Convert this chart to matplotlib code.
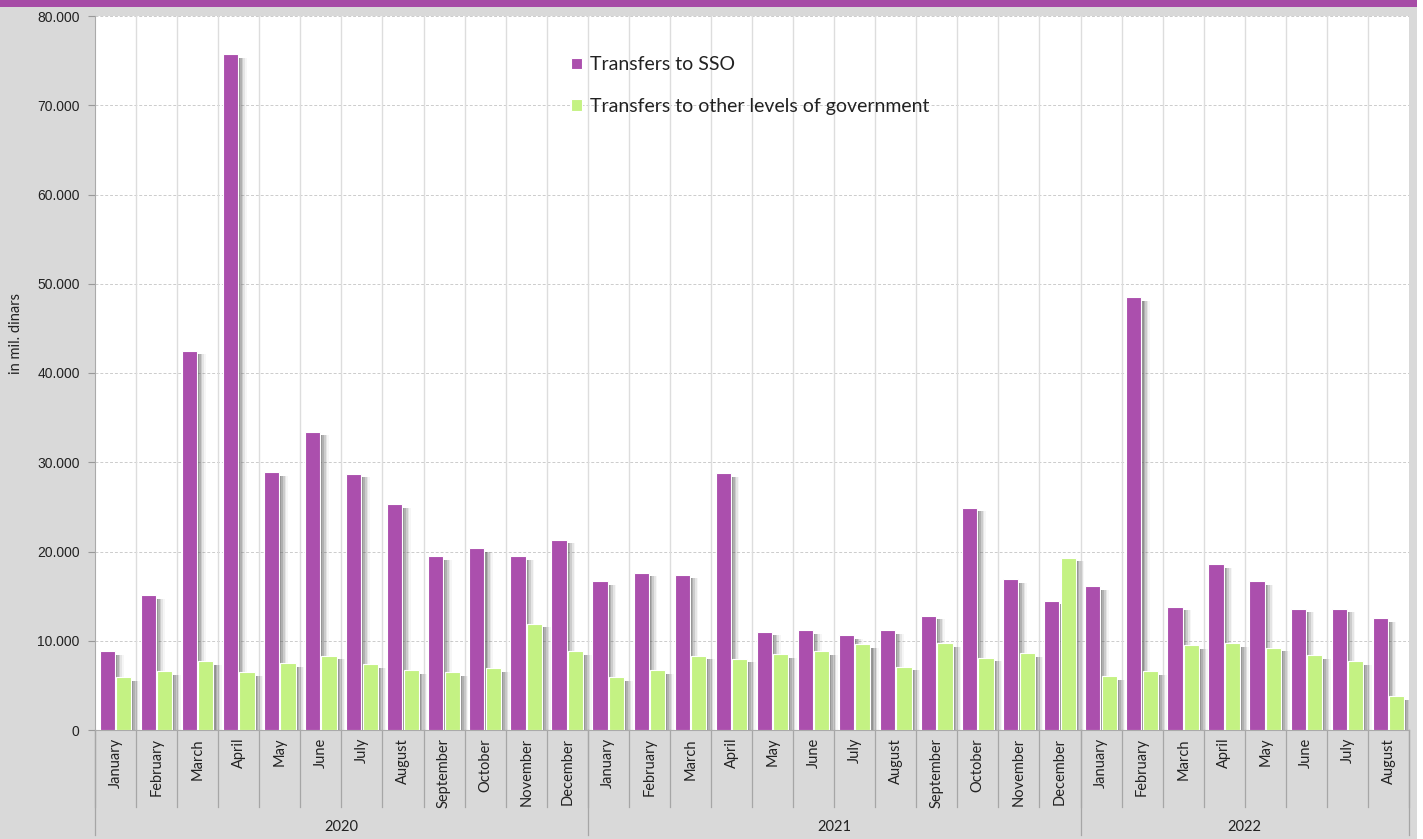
import matplotlib.pyplot as plt
import matplotlib.transforms as mtransforms
from matplotlib.patches import Rectangle
from matplotlib.ticker import FuncFormatter

months = ["January", "February", "March", "April", "May", "June", "July", "August",
          "September", "October", "November", "December"]
labels = months + months + months[:8]
years = ["2020", "2021", "2022"]
year_sizes = [12, 12, 8]

sso = [8850, 15100, 42500, 75700, 28900, 33400, 28700, 25300, 19500, 20400, 19500, 21300,
       16700, 17600, 17400, 28800, 11000, 11200, 10600, 11200, 12800, 24900, 16900, 14500,
       16100, 48500, 13800, 18600, 16700, 13600, 13600, 12500]
other = [5940, 6600, 7700, 6500, 7500, 8300, 7400, 6700, 6500, 6900, 11900, 8850,
         5900, 6700, 8300, 8000, 8500, 8850, 9600, 7100, 9750, 8100, 8600, 19300,
         6050, 6600, 9500, 9750, 9200, 8400, 7700, 3800]

purple = "#ab4fad"
green = "#c4f283"
bg = "#d9d9d9"

W, H = 1423, 839
fig = plt.figure(figsize=(W / 100, H / 100), dpi=100)
fig.patch.set_facecolor("white")
fig.patches.append(Rectangle((0, 0), 1417 / W, 1, transform=fig.transFigure,
                             facecolor=bg, edgecolor="none", zorder=-10))
fig.patches.append(Rectangle((0, 1 - 7 / H), 1417 / W, 7 / H, transform=fig.transFigure,
                             facecolor="#a64ca6", edgecolor="none", zorder=-5))

left, right, top, bottom = 95, 1409, 16, 730
ax = fig.add_axes([left / W, 1 - bottom / H, (right - left) / W, (bottom - top) / H])
ax.set_facecolor("white")

n = len(labels)
x = list(range(n))
bw = 0.37
off = 0.2
# soft shadows to the right of each bar
shadow_layers = [(0.05, 0.32), (0.09, 0.24), (0.13, 0.17), (0.17, 0.10), (0.21, 0.05)]
for k, a in shadow_layers:
    ax.bar([i - off + k for i in x], [v - 400 for v in sso], bw, color="#555555",
           alpha=a, zorder=2, linewidth=0)
    ax.bar([i + off + k for i in x], [v - 400 for v in other], bw, color="#555555",
           alpha=a, zorder=2, linewidth=0)
ax.bar([i - off for i in x], sso, bw, color=purple, edgecolor="white", linewidth=0.8,
       zorder=3, label="Transfers to SSO")
ax.bar([i + off for i in x], other, bw, color=green, edgecolor="white", linewidth=0.8,
       zorder=3, label="Transfers to other levels of government")

ax.set_xlim(-0.5, n - 0.5)
ax.set_ylim(0, 80000)
ax.set_yticks(range(0, 80001, 10000))
ax.yaxis.set_major_formatter(FuncFormatter(lambda v, p: "0" if v == 0 else f"{int(v):,}".replace(",", ".")))
ax.tick_params(axis="y", length=5, color="#999999", labelsize=10, labelcolor="#222222", pad=6)
for t in ax.get_yticklabels():
    t.set_family("Liberation Sans")
ax.set_xticks([])
ax.grid(False)
for yv in range(10000, 80001, 10000):
    ax.axhline(yv, color="#cccccc", linestyle=(0, (3, 2)), linewidth=0.7, zorder=1)
for i in range(1, n):
    ax.axvline(i - 0.5, color="#dddddd", linewidth=1.0, zorder=1)
for s in ["top", "right"]:
    ax.spines[s].set_visible(False)
ax.spines["left"].set_color("#aaaaaa")
ax.spines["bottom"].set_color("#aaaaaa")

fig.text(16 / W, 1 - 333 / H, "in mil. dinars", rotation=90, ha="center", va="center",
         fontsize=10.5, family="Lato", color="#222222")

# category axis below the plot
tr = mtransforms.blended_transform_factory(ax.transData, ax.transAxes)
hpx = bottom - top
for i, lab in enumerate(labels):
    ax.text(i, -8 / hpx, lab, transform=tr, rotation=90, ha="center", va="top",
            fontsize=10.5, family="Lato", color="#222222")
for i in range(n + 1):
    ax.plot([i - 0.5, i - 0.5], [0, -77 / hpx], transform=tr, color="#a6a6a6",
            linewidth=0.9, clip_on=False)
pos = 0
ax.plot([-0.5, -0.5], [0, -105 / hpx], transform=tr, color="#a6a6a6", linewidth=0.9, clip_on=False)
for yr, sz in zip(years, year_sizes):
    ax.text(pos + sz / 2 - 0.5, -97 / hpx, yr, transform=tr, ha="center", va="center",
            fontsize=10.5, family="Lato", color="#222222")
    pos += sz
    ax.plot([pos - 0.5, pos - 0.5], [0, -105 / hpx], transform=tr, color="#a6a6a6",
            linewidth=0.9, clip_on=False)

leg = ax.legend(loc="upper left", bbox_to_anchor=(0.349, 0.968), frameon=False,
                prop={"family": "Lato", "size": 14}, handlelength=0.55, handleheight=0.55,
                handletextpad=0.4, labelspacing=1.25)
for t in leg.get_texts():
    t.set_color("#222222")

fig.savefig("out.png", dpi=100)
